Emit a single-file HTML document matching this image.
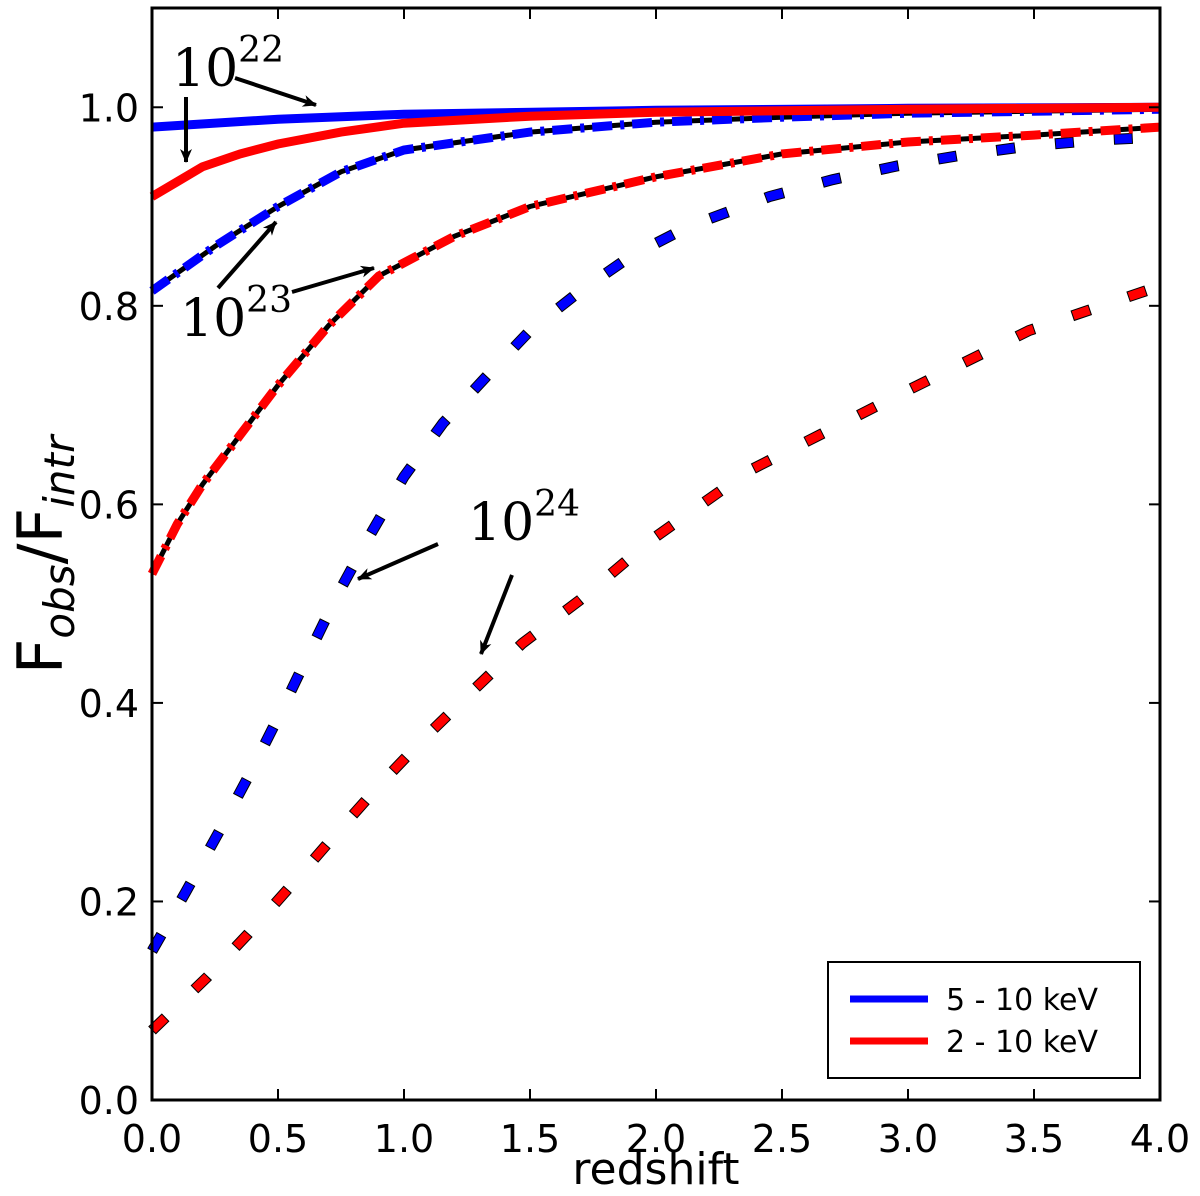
<!DOCTYPE html>
<html><head><meta charset="utf-8"><style>
body{margin:0;background:#fff}
svg text{font-family:"DejaVu Sans","Liberation Sans",sans-serif}
.ann{font-family:"DejaVu Serif","Liberation Serif",serif;font-size:52px}
</style></head><body>
<svg id="c" width="1200" height="1191" viewBox="0 0 1200 1191" xmlns="http://www.w3.org/2000/svg">
<defs><marker id="ah" markerWidth="14" markerHeight="14" refX="13" refY="7" orient="auto" markerUnits="userSpaceOnUse" viewBox="0 0 14 14"><path d="M0,1 L14,7 L0,13 L4,7 z" fill="#000"/></marker></defs>
<g id="plot"></g>
<rect x="152" y="8" width="1008" height="1092" fill="none" stroke="#000" stroke-width="3"/>
<g id="axes"></g>
<text x="656" y="1184" font-size="44" text-anchor="middle">redshift</text>
<text transform="translate(62,555) rotate(-90)" font-size="62" text-anchor="middle">F<tspan font-style="italic" font-size="42" dy="12">obs</tspan><tspan dy="-12">/F</tspan><tspan font-style="italic" font-size="42" dy="12">intr</tspan></text>
<g>
<text class="ann" x="172" y="86">10<tspan font-size="36" dy="-24">22</tspan></text>
<line x1="235" y1="78" x2="316" y2="105" stroke="#000" stroke-width="4" marker-end="url(#ah)"/>
<line x1="186" y1="97" x2="186" y2="162" stroke="#000" stroke-width="4" marker-end="url(#ah)"/>
</g>
<g>
<text class="ann" x="180" y="336">10<tspan font-size="36" dy="-24">23</tspan></text>
<line x1="218" y1="288" x2="276" y2="222" stroke="#000" stroke-width="4" marker-end="url(#ah)"/>
<line x1="292" y1="292" x2="374" y2="268" stroke="#000" stroke-width="4" marker-end="url(#ah)"/>
</g>
<g>
<text class="ann" x="468" y="540">10<tspan font-size="36" dy="-24">24</tspan></text>
<line x1="438" y1="544" x2="358" y2="579" stroke="#000" stroke-width="4" marker-end="url(#ah)"/>
<line x1="512" y1="575" x2="481" y2="654" stroke="#000" stroke-width="4" marker-end="url(#ah)"/>
</g>
<g>
<rect x="828" y="962" width="312" height="116" fill="#fff" stroke="#000" stroke-width="2"/>
<line x1="850" y1="999" x2="928" y2="999" stroke="#00f" stroke-width="7"/>
<text x="946" y="1010" font-size="30">5 - 10 keV</text>
<line x1="850" y1="1041" x2="928" y2="1041" stroke="#f00" stroke-width="7"/>
<text x="946" y="1052" font-size="30">2 - 10 keV</text>
</g>
</svg>
<script>
const z22b=[0,0.5,1,2,3,4], v22b=[0.98,0.988,0.993,0.997,0.999,1.0];
const z22r=[0,0.1,0.2,0.35,0.5,0.75,1,1.5,2,3,4], v22r=[0.91,0.925,0.94,0.953,0.963,0.975,0.984,0.991,0.995,0.998,1.0];
const z23b=[0,0.25,0.5,0.75,1,1.5,2,2.5,3,4], v23b=[0.815,0.86,0.9,0.935,0.957,0.975,0.985,0.99,0.994,0.998];
const z23r=[0,0.1,0.2,0.35,0.5,0.7,0.9,1.2,1.5,2,2.5,3,3.5,4], v23r=[0.53,0.58,0.62,0.67,0.72,0.78,0.83,0.87,0.9,0.93,0.953,0.965,0.972,0.98];
const z24b=[0,0.135,0.263,0.389,0.508,0.623,0.738,0.865,1.0,1.155,1.35,1.5,1.7,1.9,2.13,2.45,2.7,2.96,3.22,3.48,3.76,4], v24b=[0.15,0.21,0.269,0.329,0.389,0.45,0.51,0.569,0.628,0.682,0.735,0.775,0.815,0.85,0.88,0.91,0.927,0.941,0.952,0.961,0.967,0.97];
const z24r=[0,0.22,0.38,0.555,0.73,0.905,1.09,1.28,1.47,1.7,1.98,2.37,3.0,3.48,4], v24r=[0.07,0.124,0.167,0.217,0.268,0.318,0.367,0.414,0.46,0.504,0.564,0.634,0.715,0.775,0.82];
const xTicks=[0,0.5,1,1.5,2,2.5,3,3.5,4], xLabels=["0.0","0.5","1.0","1.5","2.0","2.5","3.0","3.5","4.0"];
const yTicks=[0,0.2,0.4,0.6,0.8,1.0], yLabels=["0.0","0.2","0.4","0.6","0.8","1.0"];
const X=z=>152+z*252, Y=v=>1100-v*(1092/1.1);
const NS="http://www.w3.org/2000/svg";
const plot=document.getElementById('plot'), axes=document.getElementById('axes');
function path(d,color,w,dash){
  const p=document.createElementNS(NS,'path');p.setAttribute('d',d);p.setAttribute('fill','none');p.setAttribute('stroke',color);p.setAttribute('stroke-width',w);
  if(dash)p.setAttribute('stroke-dasharray',dash);
  plot.appendChild(p);return p;
}
function line(zs,vs,color,kind,name){
  const d=zs.map((z,i)=>(i?'L':'M')+X(z).toFixed(1)+','+Y(vs[i]).toFixed(1)).join(' ');
  let p;
  if(kind==='dash'){
    const o=path(d,'#000',11,'19 40');
    
    
    p=path(d,color,9,'19 40');p.setAttribute('stroke-dashoffset','-1');p.setAttribute('stroke-dasharray','17 42');
  } else if(kind==='dashdot'){
    const o=path(d,'#000',5,null);
    
    
    p=path(d,color,9,'20 8 4 8');
  } else {
    p=path(d,color,9,null);
  }
  
  
}
line(z24r,v24r,'#f00','dash','line-1e24-2-10kev');
line(z24b,v24b,'#00f','dash','line-1e24-5-10kev');
line(z23r,v23r,'#f00','dashdot','line-1e23-2-10kev');
line(z23b,v23b,'#00f','dashdot','line-1e23-5-10kev');
line(z22b,v22b,'#00f','solid','line-1e22-5-10kev');
line(z22r,v22r,'#f00','solid','line-1e22-2-10kev');
xTicks.forEach((t,i)=>{
  const x=X(t);
  const l1=document.createElementNS(NS,'line');l1.setAttribute('x1',x);l1.setAttribute('x2',x);l1.setAttribute('y1',1100);l1.setAttribute('y2',1089);l1.setAttribute('stroke','#000');l1.setAttribute('stroke-width',2);
  
  
  axes.appendChild(l1);
  const l2=l1.cloneNode();l2.setAttribute('y1',8);l2.setAttribute('y2',19);axes.appendChild(l2);
  const tx=document.createElementNS(NS,'text');tx.setAttribute('x',x);tx.setAttribute('y',1152);tx.setAttribute('font-size',38);tx.setAttribute('text-anchor','middle');tx.textContent=xLabels[i];
  
  
  axes.appendChild(tx);
});
yTicks.forEach((t,i)=>{
  const y=Y(t);
  const l1=document.createElementNS(NS,'line');l1.setAttribute('x1',152);l1.setAttribute('x2',163);l1.setAttribute('y1',y);l1.setAttribute('y2',y);l1.setAttribute('stroke','#000');l1.setAttribute('stroke-width',2);
  
  
  axes.appendChild(l1);
  const l2=l1.cloneNode();l2.setAttribute('x1',1149);l2.setAttribute('x2',1160);axes.appendChild(l2);
  const tx=document.createElementNS(NS,'text');tx.setAttribute('x',139);tx.setAttribute('y',y+14);tx.setAttribute('font-size',38);tx.setAttribute('text-anchor','end');tx.textContent=yLabels[i];
  
  
  axes.appendChild(tx);
});
</script>
</body></html>
